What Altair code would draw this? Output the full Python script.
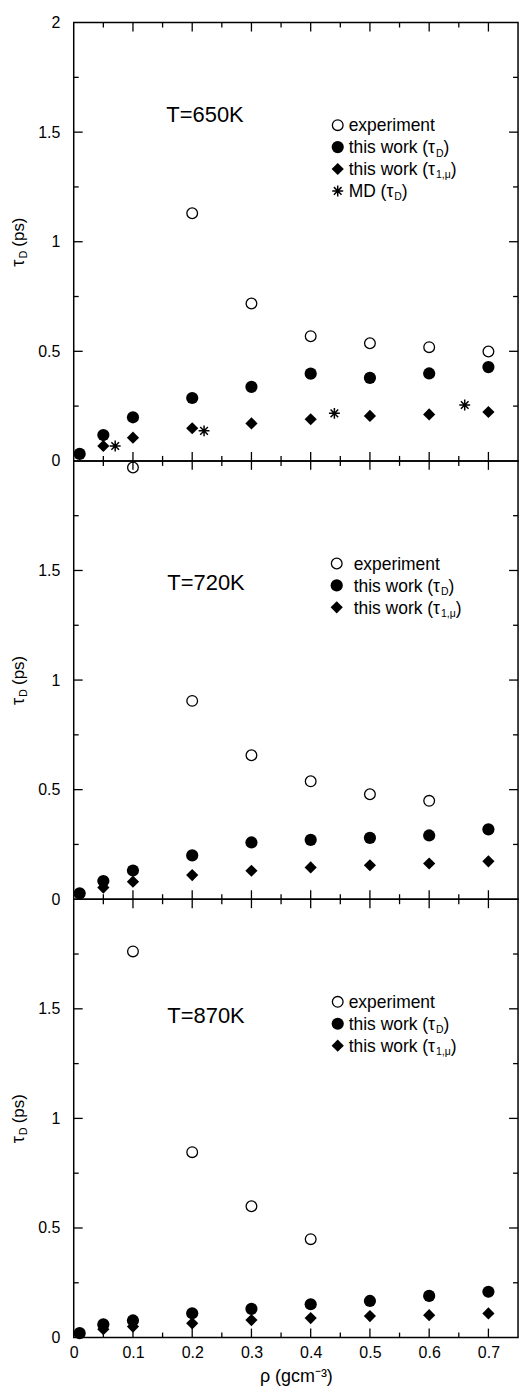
import altair as alt
import pandas as pd

FONT = "Liberation Sans"
W, H = 446, 440
XMAX = 0.75

# ---------------- data ----------------
rho_all = [0.01, 0.05, 0.1, 0.2, 0.3, 0.4, 0.5, 0.6, 0.7]
rho_tau1 = [0.05, 0.1, 0.2, 0.3, 0.4, 0.5, 0.6, 0.7]

# T = 650 K
exp650_rho = [0.1, 0.2, 0.3, 0.4, 0.5, 0.6, 0.7]
exp650 = [-0.03, 1.13, 0.718, 0.569, 0.537, 0.519, 0.499]
tauD650 = [0.032, 0.118, 0.199, 0.287, 0.338, 0.398, 0.379, 0.399, 0.428]
tau1650 = [0.068, 0.106, 0.149, 0.171, 0.190, 0.205, 0.212, 0.223]
md650_rho = [0.07, 0.22, 0.44, 0.66]
md650 = [0.068, 0.137, 0.217, 0.255]

# T = 720 K
exp720_rho = [0.2, 0.3, 0.4, 0.5, 0.6]
exp720 = [0.905, 0.657, 0.538, 0.479, 0.449]
tauD720 = [0.027, 0.083, 0.131, 0.200, 0.259, 0.271, 0.280, 0.291, 0.319]
tau1720 = [0.053, 0.080, 0.110, 0.130, 0.145, 0.155, 0.163, 0.173]

# T = 870 K
exp870_rho = [0.1, 0.2, 0.3, 0.4]
exp870 = [1.762, 0.846, 0.599, 0.449]
tauD870 = [0.020, 0.060, 0.078, 0.111, 0.131, 0.152, 0.167, 0.190, 0.209]
tau1870 = [0.038, 0.050, 0.065, 0.080, 0.089, 0.098, 0.102, 0.110]

x_labels = [0, 0.1, 0.2, 0.3, 0.4, 0.5, 0.6, 0.7]
x_major = [0.1, 0.2, 0.3, 0.4, 0.5, 0.6, 0.7]
x_minor = [0.05, 0.15, 0.25, 0.35, 0.45, 0.55, 0.65]
y_major = [0.5, 1.0, 1.5]
y_minor = [0.25, 0.75, 1.25, 1.75]
y_labels_top = [0, 0.5, 1, 1.5, 2]
y_labels = [0, 0.5, 1, 1.5]

ASTERISK = "M-1,0L1,0M0,-1L0,1M-0.7,-0.7L0.7,0.7M-0.7,0.7L0.7,-0.7"

# Arial/Liberation Sans advance widths (1/1000 em) for annotation layout
AW = {' ': 278, '(': 333, ')': 333, ',': 278, '1': 556, 'D': 722, 'M': 833,
      't': 278, 'h': 556, 'i': 222, 's': 500, 'w': 722, 'o': 556, 'r': 333,
      'k': 500, 'e': 556, 'x': 500, 'p': 556, 'm': 833, 'n': 556,
      'τ': 450, 'μ': 576}


def tw(s, size):
    return sum(AW.get(c, 556) for c in s) * size / 1000.0


one = pd.DataFrame({"k": [0]})


def txt(s, x, y, size, align="left", baseline="alphabetic", angle=0):
    return alt.Chart(one).mark_text(
        text=s, font=FONT, fontSize=size, align=align, baseline=baseline,
        angle=angle, color="black"
    ).encode(x=alt.value(x), y=alt.value(y))


def sym_mark(kind):
    if kind == "exp":
        return dict(shape="circle", filled=False, color="black", strokeWidth=1.3, size=115, opacity=1)
    if kind == "tauD":
        return dict(shape="circle", filled=True, color="black", size=150, opacity=1, strokeWidth=0)
    if kind == "tau1":
        return dict(shape="diamond", filled=True, color="black", size=150, opacity=1, strokeWidth=0)
    return dict(shape=ASTERISK, filled=False, color="black", strokeWidth=1.5, size=120, opacity=1)


def anchor(y):
    # invisible full-width rule that fixes the page margins
    return alt.Chart(one).mark_rule(opacity=0, strokeWidth=0.1).encode(
        x=alt.value(-73), x2=alt.value(W + 8), y=alt.value(y))


def panel(tlabel, tpos, series, legend_rows, lpos, ylabs, bottom, top):
    xs = alt.Scale(domain=[0, XMAX], nice=False, zero=False)
    ys = alt.Scale(domain=[0, 2], nice=False, zero=False)
    if bottom:
        xax = alt.Axis(values=x_labels, format="~g", ticks=False, domain=False, grid=False,
                       labelFont=FONT, labelFontSize=16, labelColor="black", labelPadding=7,
                       labelFlush=False,
                       title="ρ (gcm⁻³)", titleFont=FONT, titleFontSize=18,
                       titleFontWeight="normal", titleColor="black", titlePadding=7)
    else:
        xax = None
    yax = alt.Axis(values=ylabs, format="~g", ticks=False, domain=False, grid=False,
                   labelFont=FONT, labelFontSize=16, labelColor="black", labelPadding=14,
                   labelFlush=False)

    def X():
        if bottom:
            return alt.X("rho:Q", scale=xs, axis=xax, title="ρ (gcm⁻³)")
        return alt.X("rho:Q", scale=xs, axis=None)

    def Y():
        return alt.Y("tau:Q", scale=ys, axis=yax, title=None)

    layers = []
    # data points
    for kind, xr, yv in series:
        df = pd.DataFrame({"rho": xr, "tau": yv})
        layers.append(alt.Chart(df).mark_point(**sym_mark(kind)).encode(x=X(), y=Y()))

    # inward ticks
    for vals, ln in ((x_major, 9), (x_minor, 5)):
        df = pd.DataFrame({"rho": vals})
        layers.append(alt.Chart(df).mark_rule(color="black", strokeWidth=1.3).encode(
            x=X(), y=alt.value(H), y2=alt.value(H - ln)))
        layers.append(alt.Chart(df).mark_rule(color="black", strokeWidth=1.3).encode(
            x=X(), y=alt.value(0), y2=alt.value(ln)))
    for vals, ln in ((y_major, 9), (y_minor, 5)):
        df = pd.DataFrame({"tau": vals})
        layers.append(alt.Chart(df).mark_rule(color="black", strokeWidth=1.3).encode(
            y=Y(), x=alt.value(0), x2=alt.value(ln)))
        layers.append(alt.Chart(df).mark_rule(color="black", strokeWidth=1.3).encode(
            y=Y(), x=alt.value(W), x2=alt.value(W - ln)))

    # temperature label
    layers.append(txt(tlabel, tpos[0], tpos[1], 22))

    # legend
    sx, tx, y0, dy = lpos
    for i, (kind, segs) in enumerate(legend_rows):
        y = y0 + i * dy
        layers.append(alt.Chart(one).mark_point(**sym_mark(kind)).encode(
            x=alt.value(sx), y=alt.value(y)))
        x = tx
        for s, sub in segs:
            size = 10.5 if sub else 17.5
            base = y + (9.5 if sub else 6.2)
            layers.append(txt(s, x, base, size))
            x += tw(s, size)

    # y-axis title (rotated, with subscript)
    yt = 245
    xb = -50
    layers.append(txt("τ", xb, yt, 18, angle=270))
    yd = yt - tw("τ", 18)
    layers.append(txt("D", xb + 3.5, yd, 11, angle=270))
    yp = yd - tw("D", 11) - 4
    layers.append(txt("(ps)", xb, yp, 17, angle=270))

    if top:
        layers.append(anchor(-19))
    if bottom:
        layers.append(anchor(H + 52))

    return alt.layer(*layers).properties(width=W, height=H)


rows4 = [
    ("exp", [("experiment", False)]),
    ("tauD", [("this work (τ", False), ("D", True), (")", False)]),
    ("tau1", [("this work (τ", False), ("1,μ", True), (")", False)]),
    ("md", [("MD (τ", False), ("D", True), (")", False)]),
]
rows3 = rows4[:3]

p1 = panel("T=650K", (93, 100),
           [("exp", exp650_rho, exp650), ("tau1", rho_tau1, tau1650),
            ("tauD", rho_all, tauD650), ("md", md650_rho, md650)],
           rows4, (265, 276, 103, 22), y_labels_top, False, True)
p2 = panel("T=720K", (94, 130),
           [("exp", exp720_rho, exp720), ("tau1", rho_tau1, tau1720),
            ("tauD", rho_all, tauD720)],
           rows3, (264, 281, 103, 22), y_labels, False, False)
p3 = panel("T=870K", (94, 124),
           [("exp", exp870_rho, exp870), ("tau1", rho_tau1, tau1870),
            ("tauD", rho_all, tauD870)],
           rows3, (265, 276, 103, 22), y_labels, True, False)

chart = alt.vconcat(p1, p2, p3, spacing=0, bounds="flush").properties(
    padding=0,
    background="white",
).configure_view(stroke="black", strokeWidth=1.5)

chart.save("out.html", embed_options={"renderer": "svg", "actions": False})
